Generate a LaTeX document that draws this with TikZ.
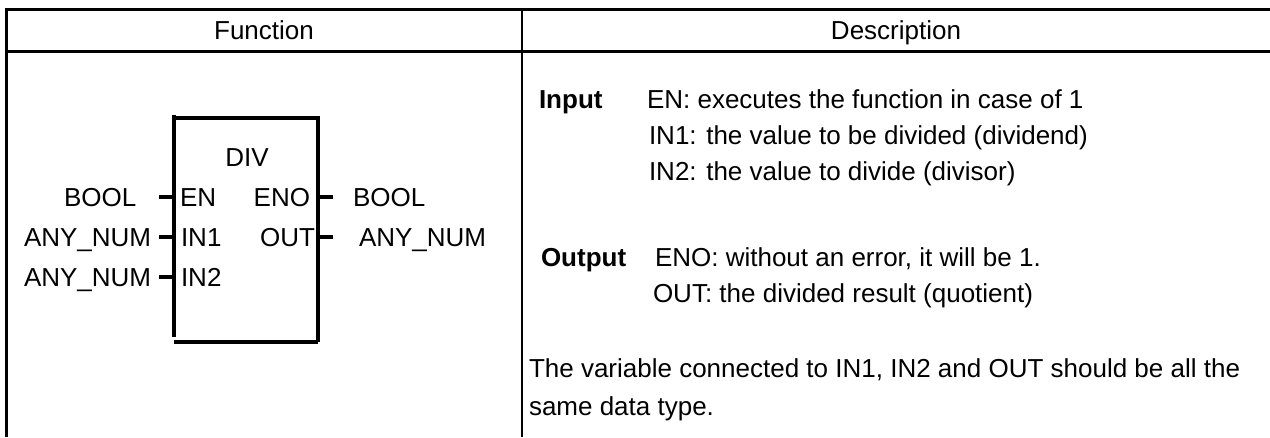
\documentclass[tikz,border=0pt]{standalone}
\usepackage{fontspec}
\setmainfont{Liberation Sans}
\begin{document}
\begin{tikzpicture}[x=1pt,y=-1pt,
  txt/.style={inner sep=0pt,outer sep=0pt,font=\fontsize{26}{30}\selectfont},
  rule/.style={line width=3pt},
  blockline/.style={line width=4pt},
  pin/.style={line width=4pt}]
\useasboundingbox[fill=white] (0,0) rectangle (1270,437);
% table
\draw[rule] (1270,9) -- (6,9) -- (6,437);
\draw[rule] (6,51) -- (1270,51);
\draw[line width=2.5pt] (522,9) -- (522,437);
\node[txt,anchor=base] (hf) at (264,39) {Function};
\node[txt,anchor=base] (hd) at (896,39) {Description};
% block
\coordinate (ltop) at (174,115);
\coordinate (lbot) at (174,337);
\coordinate (tl) at (174,118);
\coordinate (tr) at (318,118);
\coordinate (br) at (318,342);
\coordinate (bl) at (174,342);
\draw[line width=3.5pt] (ltop) -- (lbot);
\draw[blockline] (tl) -- (tr) -- (br);
\draw[blockline] (bl) -- (br);
\node[txt,anchor=base] (div) at (247,166) {DIV};
\node[txt,anchor=base west] (en) at (180,206) {EN};
\node[txt,anchor=base west] (in1) at (181,246) {IN1};
\node[txt,anchor=base west] (in2) at (181,286) {IN2};
\node[txt,anchor=base east] (eno) at (310,206) {ENO};
\node[txt,anchor=base east] (out) at (315,246) {OUT};
% pins
\coordinate (p1a) at (159,197); \coordinate (p1b) at (174,197);
\coordinate (p2a) at (159,237); \coordinate (p2b) at (174,237);
\coordinate (p3a) at (159,277); \coordinate (p3b) at (174,277);
\coordinate (q1a) at (318,197); \coordinate (q1b) at (333,197);
\coordinate (q2a) at (318,237); \coordinate (q2b) at (333,237);
\draw[pin] (p1a) -- (p1b);
\draw[pin] (p2a) -- (p2b);
\draw[pin] (p3a) -- (p3b);
\draw[pin] (q1a) -- (q1b);
\draw[pin] (q2a) -- (q2b);
\node[txt,anchor=base west] (lb1) at (64,206) {BOOL};
\node[txt,anchor=base west] (lb2) at (24,246) {ANY\_NUM};
\node[txt,anchor=base west] (lb3) at (24,286) {ANY\_NUM};
\node[txt,anchor=base west] (rb1) at (353,206) {BOOL};
\node[txt,anchor=base west] (rb2) at (359,246) {ANY\_NUM};
% description
\node[txt,anchor=base west,font=\fontsize{26}{30}\selectfont\bfseries] (inp) at (539,108) {Input};
\node[txt,anchor=base west] (d1) at (647,108) {EN: executes the function in case of 1};
\node[txt,anchor=base west] (d2) at (649,144) {IN1: the value to be divided (dividend)};
\node[txt,anchor=base west] (d3) at (649,180) {IN2: the value to divide (divisor)};
\node[txt,anchor=base west,font=\fontsize{26}{30}\selectfont\bfseries] (outp) at (541,266) {Output};
\node[txt,anchor=base west] (d4) at (655,266) {ENO: without an error, it will be 1.};
\node[txt,anchor=base west] (d5) at (653,302) {OUT: the divided result (quotient)};
\node[txt,anchor=base west] (d6) at (529,377) {The variable connected to IN1, IN2 and OUT should be all the};
\node[txt,anchor=base west] (d7) at (529,415) {same data type.};
\end{tikzpicture}
\end{document}
